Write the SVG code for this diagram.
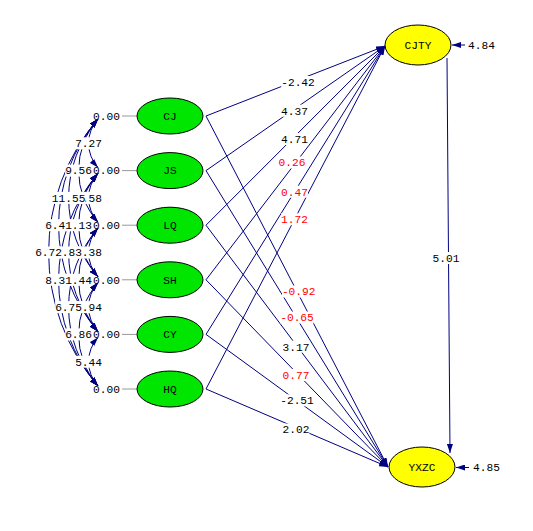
<svg xmlns="http://www.w3.org/2000/svg" width="533" height="531" viewBox="0 0 533 531">
<defs>
<style>
.t{font-family:"Liberation Mono","DejaVu Sans Mono",monospace;font-size:11.2px;fill:#000;text-anchor:middle}
.s{text-anchor:start}
.r{fill:#f00}
.ln{stroke:#000080;stroke-width:1;fill:none;marker-end:url(#ah)}
.arc{stroke:#000080;stroke-width:1;fill:none;marker-start:url(#ah);marker-end:url(#ah)}
.bg{fill:#fff}
.ex{fill:#00e600;stroke:#000;stroke-width:1}
.en{fill:#ffff00;stroke:#000;stroke-width:1}
.gl{stroke:#999;stroke-width:1}
</style>
<marker id="ah" markerUnits="userSpaceOnUse" markerWidth="9" markerHeight="6" refX="9" refY="3" orient="auto-start-reverse"><path d="M0,0L9,3L0,6z" fill="#000080"/></marker>
</defs>
<rect width="533" height="531" fill="#fff"/>

<g id="variances">
<text class="t s" x="93" y="119.8">0.00</text>
<text class="t s" x="93" y="174.4">0.00</text>
<text class="t s" x="93" y="229">0.00</text>
<text class="t s" x="93" y="283.6">0.00</text>
<text class="t s" x="93" y="338.2">0.00</text>
<text class="t s" x="93" y="392.8">0.00</text>
</g>

<g id="connectors">
<g id="covariances">
<path class="arc" d="M98,119A36.1,36.1 0 0 0 98,167.6"/>
<path class="arc" d="M98,119A78.3,78.3 0 0 0 98,222.2"/>
<path class="arc" d="M98,173.6A36.1,36.1 0 0 0 98,222.2"/>
<path class="arc" d="M98,119A120.6,120.6 0 0 0 98,276.8"/>
<path class="arc" d="M98,173.6A78.3,78.3 0 0 0 98,276.8"/>
<path class="arc" d="M98,228.2A36.1,36.1 0 0 0 98,276.8"/>
<path class="arc" d="M98,119A162.8,162.8 0 0 0 98,331.4"/>
<path class="arc" d="M98,173.6A120.6,120.6 0 0 0 98,331.4"/>
<path class="arc" d="M98,228.2A78.3,78.3 0 0 0 98,331.4"/>
<path class="arc" d="M98,282.8A36.1,36.1 0 0 0 98,331.4"/>
<path class="arc" d="M98,119A205.1,205.1 0 0 0 98,386"/>
<path class="arc" d="M98,173.6A162.8,162.8 0 0 0 98,386"/>
<path class="arc" d="M98,228.2A120.6,120.6 0 0 0 98,386"/>
<path class="arc" d="M98,282.8A78.3,78.3 0 0 0 98,386"/>
<path class="arc" d="M98,337.4A36.1,36.1 0 0 0 98,386"/>

<rect class="bg" x="75.2" y="137.3" width="26.9" height="12"/><text class="t" x="88.6" y="147.1">7.27</text>
<rect class="bg" x="65.2" y="164.6" width="26.9" height="12"/><text class="t" x="78.6" y="174.4">9.56</text>
<rect class="bg" x="75.2" y="191.9" width="26.9" height="12"/><text class="t" x="88.6" y="201.7">7.58</text>
<rect class="bg" x="51.8" y="191.9" width="33.6" height="12"/><text class="t" x="68.6" y="201.7">11.55</text>
<rect class="bg" x="65.2" y="219.2" width="26.9" height="12"/><text class="t" x="78.6" y="229">7.13</text>
<rect class="bg" x="75.2" y="246.5" width="26.9" height="12"/><text class="t" x="88.6" y="256.3">8.38</text>
<rect class="bg" x="45.2" y="219.2" width="26.9" height="12"/><text class="t" x="58.6" y="229">6.41</text>
<rect class="bg" x="55.2" y="246.5" width="26.9" height="12"/><text class="t" x="68.6" y="256.3">6.83</text>
<rect class="bg" x="65.2" y="273.8" width="26.9" height="12"/><text class="t" x="78.6" y="283.6">7.44</text>
<rect class="bg" x="75.2" y="301.1" width="26.9" height="12"/><text class="t" x="88.6" y="310.9">7.94</text>
<rect class="bg" x="35.2" y="246.5" width="26.9" height="12"/><text class="t" x="48.6" y="256.3">6.72</text>
<rect class="bg" x="45.2" y="273.8" width="26.9" height="12"/><text class="t" x="58.6" y="283.6">8.31</text>
<rect class="bg" x="55.2" y="301.1" width="26.9" height="12"/><text class="t" x="68.6" y="310.9">6.75</text>
<rect class="bg" x="65.2" y="328.4" width="26.9" height="12"/><text class="t" x="78.6" y="338.2">6.86</text>
<rect class="bg" x="75.2" y="355.7" width="26.9" height="12"/><text class="t" x="88.6" y="365.5">5.44</text>
</g>

<g id="paths">
<line class="ln" x1="206" y1="116" x2="385" y2="46"/>
<line class="ln" x1="206" y1="170.6" x2="385" y2="46"/>
<line class="ln" x1="206" y1="225.2" x2="385" y2="46"/>
<line class="ln" x1="206" y1="279.8" x2="385" y2="46"/>
<line class="ln" x1="206" y1="334.4" x2="385" y2="46"/>
<line class="ln" x1="206" y1="389" x2="385" y2="46"/>
<line class="ln" x1="206" y1="116" x2="388" y2="467"/>
<line class="ln" x1="206" y1="170.6" x2="388" y2="467"/>
<line class="ln" x1="206" y1="225.2" x2="388" y2="467"/>
<line class="ln" x1="206" y1="279.8" x2="388" y2="467"/>
<line class="ln" x1="206" y1="334.4" x2="388" y2="467"/>
<line class="ln" x1="206" y1="389" x2="388" y2="467"/>
<line class="ln" x1="447" y1="58" x2="450" y2="453"/>

<rect class="bg" x="281.2" y="76" width="33.6" height="12"/><text class="t" x="298" y="85.8">-2.42</text>
<rect class="bg" x="281" y="104.7" width="26.9" height="12"/><text class="t" x="294.5" y="114.5">4.37</text>
<rect class="bg" x="281" y="133" width="26.9" height="12"/><text class="t" x="294.5" y="142.8">4.71</text>
<rect class="bg" x="278.5" y="156.5" width="26.9" height="12"/><text class="t r" x="292" y="166.3">0.26</text>
<rect class="bg" x="281" y="185.7" width="26.9" height="12"/><text class="t r" x="294.5" y="195.5">0.47</text>
<rect class="bg" x="281" y="213.3" width="26.9" height="12"/><text class="t r" x="294.5" y="223.1">1.72</text>
<rect class="bg" x="281.9" y="285.5" width="33.6" height="12"/><text class="t r" x="298.7" y="295.3">-0.92</text>
<rect class="bg" x="280.2" y="311.5" width="33.6" height="12"/><text class="t r" x="297" y="321.3">-0.65</text>
<rect class="bg" x="282.5" y="340.7" width="26.9" height="12"/><text class="t" x="296" y="350.5">3.17</text>
<rect class="bg" x="282.5" y="369" width="26.9" height="12"/><text class="t r" x="296" y="378.8">0.77</text>
<rect class="bg" x="280.2" y="394.3" width="33.6" height="12"/><text class="t" x="297" y="404.1">-2.51</text>
<rect class="bg" x="282.5" y="423.5" width="26.9" height="12"/><text class="t" x="296" y="433.3">2.02</text>
<rect class="bg" x="432.5" y="252" width="26.9" height="12"/><text class="t" x="446" y="261.8">5.01</text>
</g>
</g>

<g id="CJ"><line class="gl" x1="122" y1="116" x2="137" y2="116"/><ellipse class="ex" cx="170" cy="116" rx="33" ry="18"/><text class="t" x="170" y="119.8">CJ</text></g>
<g id="JS"><line class="gl" x1="122" y1="170.6" x2="137" y2="170.6"/><ellipse class="ex" cx="170" cy="170.6" rx="33" ry="18"/><text class="t" x="170" y="174.4">JS</text></g>
<g id="LQ"><line class="gl" x1="122" y1="225.2" x2="137" y2="225.2"/><ellipse class="ex" cx="170" cy="225.2" rx="33" ry="18"/><text class="t" x="170" y="229">LQ</text></g>
<g id="SH"><line class="gl" x1="122" y1="279.8" x2="137" y2="279.8"/><ellipse class="ex" cx="170" cy="279.8" rx="33" ry="18"/><text class="t" x="170" y="283.6">SH</text></g>
<g id="CY"><line class="gl" x1="122" y1="334.4" x2="137" y2="334.4"/><ellipse class="ex" cx="170" cy="334.4" rx="33" ry="18"/><text class="t" x="170" y="338.2">CY</text></g>
<g id="HQ"><line class="gl" x1="122" y1="389" x2="137" y2="389"/><ellipse class="ex" cx="170" cy="389" rx="33" ry="18"/><text class="t" x="170" y="392.8">HQ</text></g>

<g id="CJTY"><ellipse class="en" cx="418" cy="45" rx="33" ry="20"/><text class="t" x="418" y="48.8">CJTY</text>
<line class="ln" x1="465" y1="45" x2="452" y2="45"/><text class="t s" x="468" y="48.8">4.84</text></g>
<g id="YXZC"><ellipse class="en" cx="422" cy="467" rx="33" ry="20"/><text class="t" x="422" y="470.8">YXZC</text>
<line class="ln" x1="469" y1="467.5" x2="456" y2="467.5"/><text class="t s" x="473" y="471.3">4.85</text></g>
</svg>
